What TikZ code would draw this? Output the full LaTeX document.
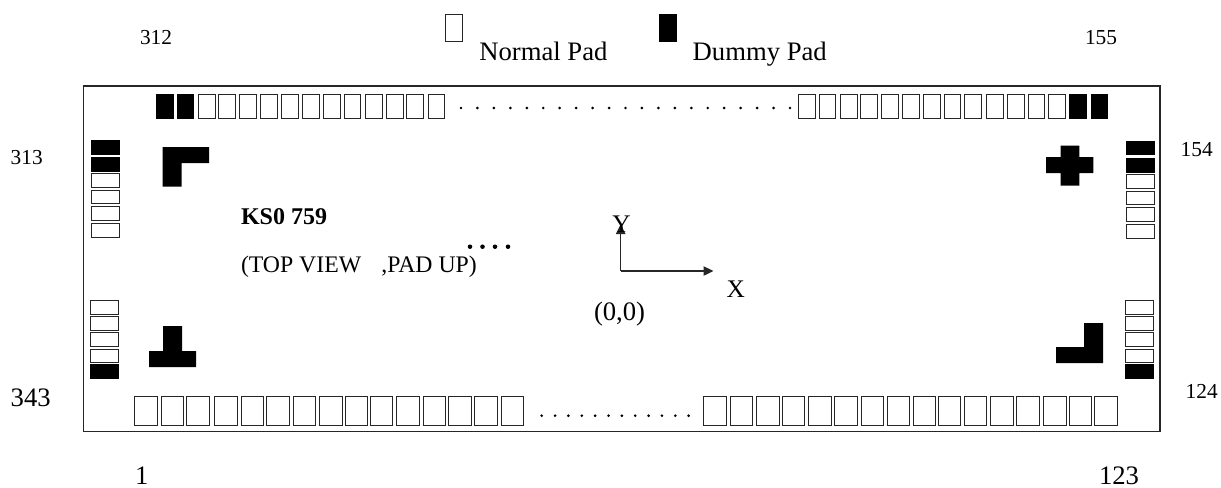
\documentclass[tikz,border=0pt]{standalone}
\usepackage{fontspec}
\setmainfont{Liberation Serif}
\usetikzlibrary{arrows.meta}
\tikzset{
  x=.75pt,y=-.75pt,
  every node/.style={inner sep=0pt,outer sep=0pt},
  normalpad/.style={draw=black!85,line width=.85pt,fill=white,anchor=north west,xshift=.45pt,yshift=-.45pt},
  dummypad/.style={normalpad,draw=black,fill=black},
  hpad/.style={minimum width=12.4pt,minimum height=18.2pt},
  bpad/.style={minimum width=16.7pt,minimum height=21.3pt},
  vpad/.style={minimum width=21pt,minimum height=10.1pt},
  legendpad/.style={minimum width=12.9pt,minimum height=20.5pt},
  smalltext/.style={anchor=base west,font=\fontsize{16}{18}\selectfont},
  midtext/.style={anchor=base west,font=\fontsize{17.8}{20}\selectfont},
  bigtext/.style={anchor=base west,font=\fontsize{20}{22}\selectfont},
  ink/.style={fill=black,draw=none},
  axis/.style={draw=black!85,line width=.9pt,-{Triangle[length=7.5pt,width=7pt]}}
}
\begin{document}
\begin{tikzpicture}
\useasboundingbox (0,0) rectangle (1221,487);
\node[draw=black!85,line width=1pt,anchor=north west,minimum width=807.4pt,minimum height=259.3pt] (frame) at (83.5,86) {};
% legend
\node[normalpad,legendpad] (legendN) at (445,13.5) {};
\node[dummypad,legendpad] (legendD) at (658.7,13.5) {};
\node[bigtext] (tN) at (479.3,60) {Normal Pad};
\node[bigtext] (tD) at (692.7,60) {Dummy Pad};
% top row
\foreach \px [count=\i] in {156,176.7} \node[dummypad,hpad] (tl\i) at (\px,94) {};
\foreach \px [count=\i] in {198.3,218.3,239.3,260.3,281.3,302,323,343.7,365,386,406,427.7}
  \node[normalpad,hpad] (tm\i) at (\px,94) {};
\foreach \px [count=\i] in {798.3,818.7,840,860.3,881,902.3,923.3,943.7,964.3,986,1007,1027.7,1048.3}
  \node[normalpad,hpad] (tr\i) at (\px,94) {};
\foreach \px [count=\i] in {1069.3,1090.7} \node[dummypad,hpad] (te\i) at (\px,94) {};
% bottom row
\foreach \px [count=\i] in {134.3,161,186.3,214.3,241,266.3,293,319.3,344.7,370,396.3,422.7,448.3,474.3,500.7,703.3,729.7,756.3,781.7,808.3,834.3,861,887,912.7,938,964,990.3,1016.3,1043.3,1069,1094.3}
  \node[normalpad,bpad] (b\i) at (\px,396.3) {};
% left columns
\foreach \py [count=\i] in {140,157} \node[dummypad,vpad] (ld\i) at (91,\py) {};
\foreach \py [count=\i] in {173.3,189.7,206,223} \node[normalpad,vpad] (ln\i) at (91,\py) {};
\foreach \py [count=\i] in {300,316,332.3,348.7} \node[normalpad,vpad] (lb\i) at (90,\py) {};
\node[dummypad,vpad] (lbd) at (90,364.3) {};
% right columns
\foreach \py [count=\i] in {140.7,158} \node[dummypad,vpad] (rd\i) at (1126,\py) {};
\foreach \py [count=\i] in {174.3,190.7,207,224} \node[normalpad,vpad] (rn\i) at (1126,\py) {};
\foreach \py [count=\i] in {300,316,332.3,348.7} \node[normalpad,vpad] (rb\i) at (1125,\py) {};
\node[dummypad,vpad] (rbd) at (1125,364.3) {};
% alignment marks
\fill[ink] (162.7,147) -- (209,147) -- (209,163) -- (181.7,163) -- (181.7,186.7) -- (162.7,186.7) -- cycle;
\fill[ink] (1060.7,145.7) -- (1079.3,145.7) -- (1079.3,157) -- (1093.3,157) -- (1093.3,173) -- (1079.3,173) -- (1079.3,185.7) -- (1060.7,185.7) -- (1060.7,173) -- (1046,173) -- (1046,157) -- (1060.7,157) -- cycle;
\fill[ink] (163,326) -- (182,326) -- (182,351) -- (196,351) -- (196,367) -- (149,367) -- (149,351) -- (163,351) -- cycle;
\fill[ink] (1084,323) -- (1103,323) -- (1103,363) -- (1056,363) -- (1056,347) -- (1084,347) -- cycle;
% dots
\foreach \i in {0,...,20} \fill[ink] ({461+16.45*\i},108) circle (1.1pt);
\foreach \i in {0,...,11} \fill[ink] ({541.7+13.36*\i},415.7) circle (1.1pt);
\foreach \px in {470,482.5,495,508} \fill[ink] (\px,246.7) circle (1.7pt);
% labels
\node[smalltext] (n312) at (140,44.3) {312};
\node[smalltext] (n155) at (1085,44) {155};
\node[smalltext] (n313) at (10.7,164.3) {313};
\node[smalltext] (n154) at (1180.7,156.7) {154};
\node[smalltext] (n124) at (1185.7,398.7) {124};
\node[bigtext] (n343) at (10.7,406.7) {343};
\node[bigtext] (n1) at (135,484.5) {1};
\node[bigtext] (n123) at (1099,484.5) {123};
\node[midtext,font=\fontsize{18}{20}\selectfont\bfseries] (title) at (241,224.3) {KS0 759};
\node[midtext] (view) at (241,272.7) {(TOP VIEW\hspace{.85em},PAD UP)};
% axes
\coordinate (orig) at (620.7,271);
\coordinate (xend) at (713.5,271);
\coordinate (yend) at (620.7,224);
\draw[axis] (orig) -- (xend);
\draw[axis] (orig) -- (yend);
\node[midtext,font=\fontsize{19}{20}\selectfont] (ylab) at (612.3,232) {Y};
\node[midtext,font=\fontsize{19}{20}\selectfont] (xlab) at (726.7,297.7) {X};
\node[bigtext] (zero) at (594,320) {(0,0)};
\end{tikzpicture}
\end{document}
